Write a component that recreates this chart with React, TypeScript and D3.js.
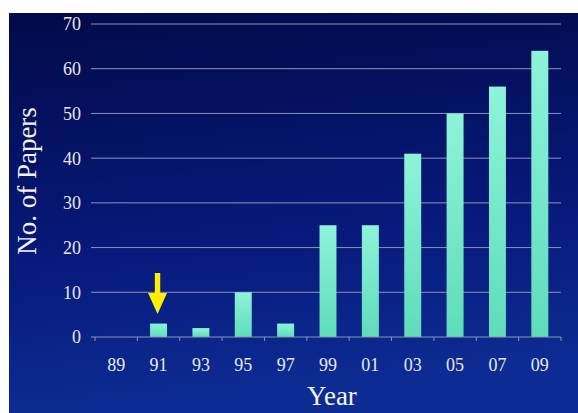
import React from "react";
import * as d3 from "d3";

const years = ["89", "91", "93", "95", "97", "99", "01", "03", "05", "07", "09"];
const papers = [0, 3, 2, 10, 3, 25, 25, 41, 50, 56, 64];
const yTicks = [0, 10, 20, 30, 40, 50, 60, 70];
const arrowYear = "91";

const W = 578;
const H = 413;
const left = 95;
const right = 561;
const top = 24;
const bottom = 337;

export default function App() {
  const x = d3.scaleBand<string>().domain(years).range([left, right]).paddingInner(0.6).paddingOuter(0.3);
  const y = d3.scaleLinear().domain([0, 70]).range([bottom, top]);
  const boundaries = d3.range(years.length + 1).map((i) => left + i * ((right - left) / years.length));
  const ax = (x(arrowYear) ?? 0) + x.bandwidth() / 2 - 1;
  const font = "'Liberation Serif', 'Times New Roman', serif";
  return (
    <svg width={W} height={H} style={{ position: "absolute", left: 0, top: 0, display: "block" }}>
      <defs>
        <linearGradient id="bg" x1="0" y1="0" x2="0.15" y2="1">
          <stop offset="0" stopColor="#020a48" />
          <stop offset="0.6" stopColor="#07197a" />
          <stop offset="1" stopColor="#0d2c93" />
        </linearGradient>
        <linearGradient id="bar" x1="0" y1="0" x2="0" y2="1">
          <stop offset="0" stopColor="#8ef3d8" />
          <stop offset="1" stopColor="#5fdcba" />
        </linearGradient>
      </defs>
      <rect x={0} y={0} width={W} height={H} fill="#ffffff" />
      <rect x={9} y={13} width={W - 9} height={H - 13} fill="url(#bg)" />
      {yTicks.map((t) => (
        <g key={t}>
          {t > 0 && <line x1={left - 4} x2={right} y1={y(t)} y2={y(t)} stroke="#8e93b4" strokeWidth={1} />}
          <text x={81} y={y(t)} dy="0.36em" textAnchor="end" fill="#e6e8f0" fontFamily={font} fontSize={18}>
            {t}
          </text>
        </g>
      ))}
      {years.map((yr, i) => (
        <rect
          key={yr}
          x={x(yr)}
          y={y(papers[i])}
          width={x.bandwidth()}
          height={bottom - y(papers[i])}
          fill="url(#bar)"
        />
      ))}
      <line x1={left - 4} x2={right} y1={bottom} y2={bottom} stroke="#8e93b4" strokeWidth={1} />
      {boundaries.map((bx, i) => (
        <line key={i} x1={bx} x2={bx} y1={bottom} y2={bottom + 4} stroke="#8e93b4" strokeWidth={1} />
      ))}
      {years.map((yr) => (
        <text
          key={yr}
          x={(x(yr) ?? 0) + x.bandwidth() / 2}
          y={371}
          textAnchor="middle"
          fill="#e6e8f0"
          fontFamily={font}
          fontSize={18}
        >
          {yr}
        </text>
      ))}
      <path
        d={`M${ax - 2.7},273 L${ax + 2.7},273 L${ax + 2.7},293 L${ax + 9.5},293 L${ax},314 L${ax - 9.5},293 L${ax - 2.7},293 Z`}
        fill="#ffee00"
      />
      <text x={332} y={405} textAnchor="middle" fill="#f2f2f2" fontFamily={font} fontSize={27}>
        Year
      </text>
      <text
        transform={`translate(36,181) rotate(-90)`}
        textAnchor="middle"
        fill="#f2f2f2"
        fontFamily={font}
        fontSize={27}
      >
        No. of Papers
      </text>
    </svg>
  );
}
